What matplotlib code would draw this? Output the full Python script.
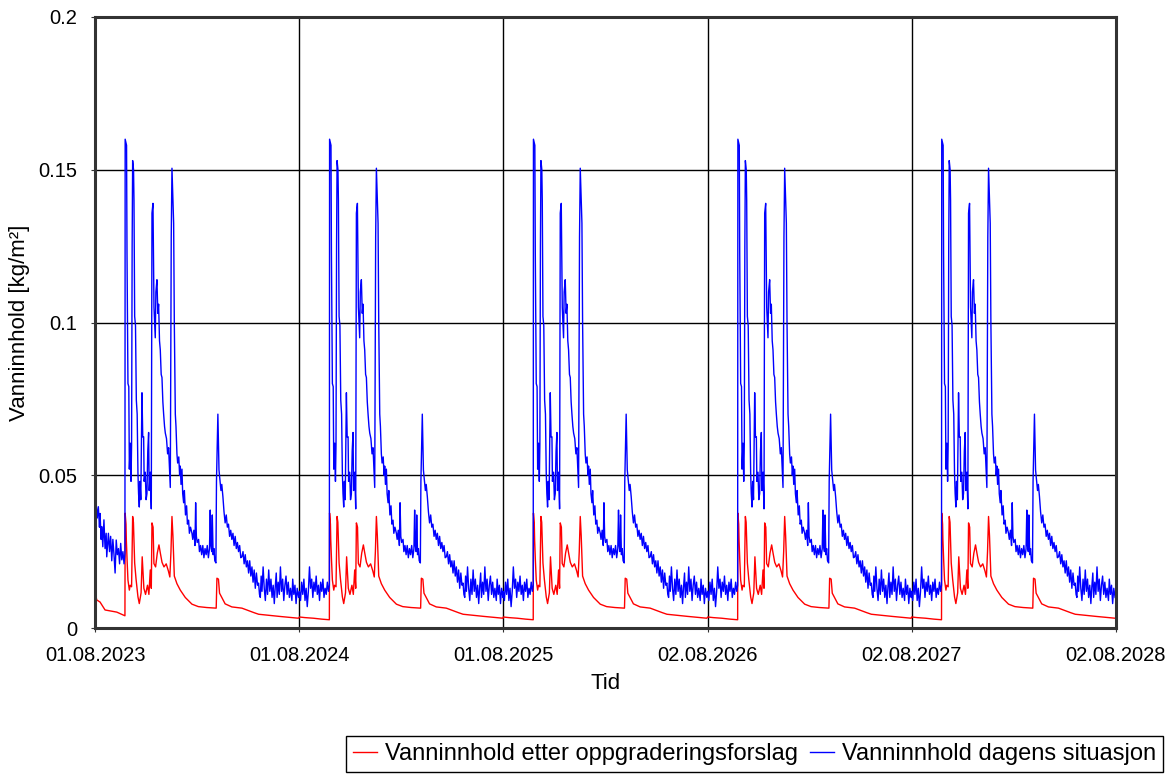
import pandas as pd
import matplotlib
matplotlib.use('Agg')
import matplotlib.pyplot as plt

# tick dates / year starts
tick_dates = ['2023-08-01', '2024-08-01', '2025-08-01', '2026-08-02', '2027-08-02', '2028-08-02']
tick_labels = ['01.08.2023', '01.08.2024', '01.08.2025', '02.08.2026', '02.08.2027', '02.08.2028']

# blue, first year before the autumn jump (days from year start, kg/m2)
blue_first_days = [0, 1, 2, 4, 6, 8, 9, 11, 12, 14, 16, 18, 20, 21, 24, 26, 28, 30, 32, 34, 36, 38, 40, 42, 44, 46, 48, 50, 52, 53.6]
blue_first_vals = [0.045, 0.034, 0.041, 0.036, 0.0397, 0.033, 0.0375, 0.029, 0.0332, 0.0266, 0.0354, 0.026, 0.031, 0.0233, 0.031,
                   0.025, 0.030, 0.022, 0.029, 0.024, 0.018, 0.0288, 0.024, 0.026, 0.021, 0.0277, 0.0223, 0.025, 0.021, 0.0244]

# blue, later years before the jump
blue_pre_days = [0, 2, 4, 6, 8, 10, 12, 14, 16, 18, 20, 22, 24, 26, 28, 30, 32, 34, 36, 38, 40, 42, 44, 46, 48, 50, 52, 53.6]
blue_pre_vals = [0.012, 0.009, 0.015, 0.011, 0.016, 0.009, 0.013, 0.007, 0.012, 0.020, 0.013, 0.016, 0.010, 0.015, 0.012, 0.017,
                 0.011, 0.014, 0.009, 0.015, 0.012, 0.016, 0.010, 0.013, 0.011, 0.015, 0.012, 0.014]

# blue, rest of the year (same every year)
blue_days = [54.0, 56.5, 57.3, 59.0, 60.5, 61.5, 63.2, 64.5, 65.5, 66.5, 67.4, 69.0, 69.8, 71.0, 72.5, 74.0, 75.5, 76.9, 78.0,
             79.3, 80.5, 82.0, 84.1, 85.5, 87.1, 88.0, 90.0, 91.5, 93.0, 94.5, 96.0, 97.0, 99.0, 100.8, 102.0, 103.8, 105.6,
             106.8, 107.9, 109.0, 110.9, 112.5, 113.9, 115.5, 116.9, 118.5, 119.9, 121.5, 122.9, 124.5, 125.9, 128.0, 130.0,
             131.8, 133.5, 134.8, 136.5, 137.8, 139.5, 140.8, 142.0, 143.8, 145.0, 146.7, 148.0, 150.0, 151.5, 152.7, 154.0,
             155.7, 157.0, 158.7, 160.0, 162.0, 164.0, 165.5, 167.6, 169.0, 171.0, 173.6, 175.0, 177.0, 179.0, 180.2, 181.5,
             183.0, 185.5, 187.0, 189.0, 191.0, 193.0, 195.0, 197.0, 199.0, 201.0, 203.0, 205.0, 206.3, 207.5, 209.0, 210.0,
             211.5, 213.0, 214.5, 216.5, 217.5, 220.0, 221.2, 222.0, 224.0, 225.5, 227.0, 229.0, 231.0, 233.0, 235.0, 237.0,
             239.0, 241.0, 243.0, 245.0, 247.0, 249.0, 251.0, 253.0, 255.0, 257.0, 259.0, 261.0, 263.0, 265.0, 267.0, 269.0,
             271.0, 273.0, 275.0, 277.0, 279.0, 281.0, 283.0, 285.0, 287.0, 289.0, 291.0, 292.9, 294.5, 296.0, 297.5, 299.0,
             301.0, 303.0, 305.0, 307.0, 309.0, 311.0, 313.0, 315.0, 317.0, 319.0, 321.0, 322.7, 324.5, 326.0, 328.0, 330.0,
             332.0, 334.0, 336.0, 338.0, 340.0, 342.0, 344.0, 346.0, 348.0, 350.0, 352.5, 354.0, 356.0, 358.0, 360.0, 362.0, 364.4]
blue_vals = [0.160, 0.158, 0.1227, 0.080, 0.079, 0.052, 0.0605, 0.048, 0.060, 0.125, 0.153, 0.150, 0.140, 0.102, 0.099, 0.0746,
             0.070, 0.0507, 0.044, 0.0396, 0.048, 0.042, 0.077, 0.0625, 0.0626, 0.048, 0.051, 0.042, 0.044, 0.058, 0.064, 0.045,
             0.051, 0.039, 0.1358, 0.139, 0.105, 0.100, 0.095, 0.110, 0.114, 0.103, 0.106, 0.094, 0.091, 0.083, 0.082, 0.074,
             0.070, 0.066, 0.0638, 0.062, 0.057, 0.059, 0.052, 0.046, 0.128, 0.1505, 0.140, 0.1325, 0.100, 0.070, 0.066, 0.057,
             0.054, 0.056, 0.050, 0.053, 0.047, 0.052, 0.044, 0.041, 0.045, 0.037, 0.040, 0.034, 0.0353, 0.031, 0.033, 0.031,
             0.029, 0.032, 0.027, 0.041, 0.030, 0.028, 0.029, 0.025, 0.027, 0.024, 0.027, 0.023, 0.026, 0.024, 0.027, 0.023,
             0.026, 0.0386, 0.027, 0.025, 0.037, 0.024, 0.026, 0.022, 0.0213, 0.048, 0.070, 0.060, 0.0517, 0.048, 0.045, 0.047,
             0.043, 0.038, 0.0344, 0.037, 0.033, 0.034, 0.030, 0.032, 0.029, 0.031, 0.027, 0.030, 0.026, 0.028, 0.025, 0.027,
             0.023, 0.0233, 0.025, 0.021, 0.024, 0.020, 0.022, 0.018, 0.022, 0.017, 0.020, 0.015, 0.019, 0.013, 0.018, 0.014,
             0.0147, 0.011, 0.010, 0.017, 0.012, 0.020, 0.013, 0.009, 0.016, 0.011, 0.019, 0.012, 0.016, 0.010, 0.014, 0.008,
             0.0134, 0.018, 0.010, 0.015, 0.011, 0.020, 0.012, 0.016, 0.009, 0.014, 0.017, 0.011, 0.015, 0.010, 0.013, 0.009,
             0.016, 0.011, 0.014, 0.008, 0.013, 0.010]

# red, first year before the jump
red_first_days = [0, 3, 9, 18, 27, 39, 51, 53.6]
red_first_vals = [0.0124, 0.0092, 0.0085, 0.0059, 0.0056, 0.0052, 0.0042, 0.0040]

# red, later years before the jump
red_pre_days = [0, 10, 25, 40, 53.6]
red_pre_vals = [0.0036, 0.0034, 0.0032, 0.0029, 0.0027]

# red, rest of the year
red_days = [54.0, 55.5, 56.1, 57.5, 59.0, 61.5, 63.0, 65.5, 67.4, 68.8, 71.0, 73.5, 76.9, 79.3, 82.5, 84.5, 87.5, 90.5, 94.0,
            96.5, 99.0, 100.8, 102.0, 104.0, 105.5, 108.5, 111.5, 114.5, 117.0, 120.0, 123.5, 127.5, 131.5, 134.0, 136.0,
            137.8, 139.5, 142.0, 146.7, 152.7, 161.6, 173.6, 185.0, 200.0, 217.0, 218.3, 221.0, 223.0, 227.0, 233.0, 245.0,
            263.0, 285.0, 293.0, 330.0, 364.4]
red_vals = [0.0376, 0.034, 0.0288, 0.022, 0.0157, 0.0124, 0.014, 0.0135, 0.0365, 0.0346, 0.0213, 0.016, 0.0102, 0.008, 0.0115,
            0.0233, 0.013, 0.011, 0.014, 0.011, 0.019, 0.013, 0.0344, 0.033, 0.0211, 0.020, 0.0245, 0.0272, 0.0245, 0.0215,
            0.020, 0.021, 0.0186, 0.0167, 0.025, 0.0365, 0.0302, 0.017, 0.0145, 0.0124, 0.010, 0.0078, 0.0070, 0.0067, 0.0065,
            0.0163, 0.0160, 0.0114, 0.0100, 0.0079, 0.0069, 0.0065, 0.0050, 0.0045, 0.0038, 0.0032]


def build(first_days, first_vals, pre_days, pre_vals, days, vals):
    xs, ys = [], []
    for i, start in enumerate(tick_dates[:-1]):
        s = pd.Timestamp(start)
        d0, v0 = (first_days, first_vals) if i == 0 else (pre_days, pre_vals)
        for d, v in zip(list(d0) + list(days), list(v0) + list(vals)):
            xs.append(s + pd.Timedelta(days=d))
            ys.append(v)
    return xs, ys


bx, by = build(blue_first_days, blue_first_vals, blue_pre_days, blue_pre_vals, blue_days, blue_vals)
rx, ry = build(red_first_days, red_first_vals, red_pre_days, red_pre_vals, red_days, red_vals)

plt.rcParams['font.family'] = ['Liberation Sans', 'DejaVu Sans']
fig = plt.figure(figsize=(11.73, 7.74), dpi=100)
ax = fig.add_axes([95 / 1173, 1 - 628 / 774, (1116 - 95) / 1173, (628 - 17) / 774])

l1, = ax.plot(rx, ry, color='#ff0000', lw=1.0)
l2, = ax.plot(bx, by, color='#0000ff', lw=1.0)

ticks = [pd.Timestamp(t) for t in tick_dates]
ax.set_xlim(ticks[0], ticks[-1])
ax.set_xticks(ticks)
ax.set_xticklabels(tick_labels)
ax.set_ylim(0, 0.2)
ax.set_yticks([0, 0.05, 0.1, 0.15, 0.2])
ax.set_yticklabels(['0', '0.05', '0.1', '0.15', '0.2'])
ax.grid(True, color='black', lw=1.0)
ax.tick_params(labelsize=14.5, length=3, color='#333333')
ax.tick_params(axis='x', pad=10)
ax.tick_params(axis='y', pad=10)
for sp in ax.spines.values():
    sp.set_linewidth(2.2)
    sp.set_color('#333333')

ax.set_xlabel('Tid', fontsize=16, labelpad=6)
ax.set_ylabel('Vanninnhold [kg/m²]', fontsize=16)
ax.yaxis.set_label_coords(-0.064, 0.5)

leg = fig.legend([l1, l2], ['Vanninnhold etter oppgraderingsforslag', 'Vanninnhold dagens situasjon'],
                 loc='lower right', bbox_to_anchor=(1163 / 1173, 0.002), ncol=2, fontsize=17,
                 frameon=True, fancybox=False, framealpha=1, edgecolor='black', borderaxespad=0,
                 handlelength=1.0, handletextpad=0.35, columnspacing=0.5, borderpad=0.3)
leg.get_frame().set_linewidth(1.0)

fig.savefig('out.png', dpi=100)
